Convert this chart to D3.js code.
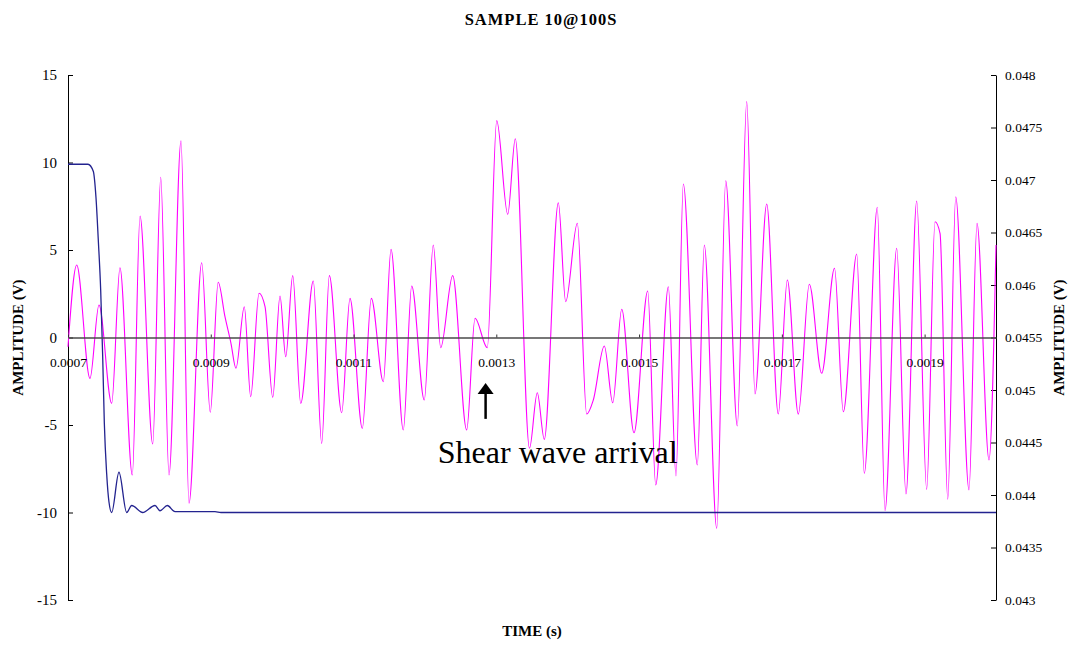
<!DOCTYPE html>
<html>
<head>
<meta charset="utf-8">
<script src="https://cdn.jsdelivr.net/npm/d3@7/dist/d3.min.js"></script>
<style>
  body { margin: 0; background: #fff; }
  svg { display: block; }
  text { font-family: "Liberation Serif", "Times New Roman", serif; fill: #000; }
</style>
</head>
<body>
<svg id="chart" width="1071" height="645"></svg>
<script>
// ---- chart text ----
const chartTitle = "SAMPLE 10@100S";
const xTitle = "TIME (s)";
const yTitle = "AMPLITUDE (V)";
const noteText = "Shear wave arrival";

// ---- axes ----
const xTicks = [0.0007, 0.0009, 0.0011, 0.0013, 0.0015, 0.0017, 0.0019];
const xTickLabels = ["0.0007", "0.0009", "0.0011", "0.0013", "0.0015", "0.0017", "0.0019"];
const leftTicks = [-15, -10, -5, 0, 5, 10, 15];
const leftTickLabels = ["-15", "-10", "-5", "0", "5", "10", "15"];
const rightTicks = [0.043, 0.0435, 0.044, 0.0445, 0.045, 0.0455, 0.046, 0.0465, 0.047, 0.0475, 0.048];
const rightTickLabels = ["0.043", "0.0435", "0.044", "0.0445", "0.045", "0.0455", "0.046", "0.0465", "0.047", "0.0475", "0.048"];

// ---- input pulse (left axis, V) ----
const inputTime = [0.0007000, 0.0007280, 0.0007354, 0.0007392, 0.0007424, 0.0007458, 0.0007486, 0.0007509,
  0.0007542, 0.0007574, 0.0007612, 0.0007714, 0.0007822, 0.0007892, 0.0008046, 0.0008219, 0.0008289,
  0.0008391, 0.0008499, 0.0009059, 0.0009143, 0.0020000];
const inputVolts = [9.9, 9.9, 9.5, 8.0, 5.6, 2.7, -1.1, -4.9, -7.8, -9.4, -10.0, -7.7, -10.0, -9.6, -10.0,
  -9.6, -9.9, -9.6, -9.95, -9.95, -10.0, -10.0];

// ---- receiver response (right axis, V) ----
const responseTime = [0.0007000, 0.0007122, 0.0007308, 0.0007434, 0.0007612, 0.0007728, 0.0007901, 0.0008009, 0.0008187, 0.0008299,
  0.0008415, 0.0008583, 0.0008695, 0.0008873, 0.0008993, 0.0009104, 0.0009199, 0.0009283, 0.0009353, 0.0009470,
  0.0009559, 0.0009676, 0.0009760, 0.0009868, 0.0009970, 0.0010050, 0.0010148, 0.0010260, 0.0010436, 0.0010554,
  0.0010661, 0.0010834, 0.0010950, 0.0011123, 0.0011249, 0.0011417, 0.0011525, 0.0011697, 0.0011815, 0.0011991,
  0.0012117, 0.0012221, 0.0012389, 0.0012585, 0.0012702, 0.0012874, 0.0013006, 0.0013160, 0.0013266, 0.0013465,
  0.0013574, 0.0013672, 0.0013869, 0.0013972, 0.0014135, 0.0014266, 0.0014359, 0.0014513, 0.0014631, 0.0014757,
  0.0014929, 0.0015121, 0.0015233, 0.0015410, 0.0015517, 0.0015620, 0.0015816, 0.0015914, 0.0016088, 0.0016214,
  0.0016376, 0.0016508, 0.0016624, 0.0016788, 0.0016950, 0.0017077, 0.0017231, 0.0017385, 0.0017558, 0.0017738,
  0.0017861, 0.0018049, 0.0018155, 0.0018337, 0.0018445, 0.0018609, 0.0018739, 0.0018889, 0.0019029, 0.0019146,
  0.0019216, 0.0019324, 0.0019436, 0.0019622, 0.0019734, 0.0019902, 0.0020000];
const responseVolts = [0.045412, 0.046190, 0.045111, 0.045810, 0.044873, 0.046165, 0.044190, 0.046657, 0.044486, 0.047026,
  0.044190, 0.047374, 0.043921, 0.046212, 0.044788, 0.046026, 0.045698, 0.045445, 0.045207, 0.045793,
  0.044936, 0.045921, 0.045793, 0.044930, 0.045895, 0.045317, 0.046089, 0.044873, 0.046038, 0.044492,
  0.046089, 0.044784, 0.045873, 0.044635, 0.045873, 0.045079, 0.046340, 0.044619, 0.045990, 0.044905,
  0.046381, 0.045403, 0.046089, 0.044619, 0.045683, 0.045403, 0.047565, 0.046673, 0.047393, 0.044445,
  0.044974, 0.044530, 0.046784, 0.045841, 0.046588, 0.044771, 0.044905, 0.045419, 0.044879, 0.045769,
  0.044593, 0.045943, 0.044095, 0.045984, 0.044181, 0.046962, 0.044286, 0.046381, 0.043683, 0.046993,
  0.044657, 0.047746, 0.044962, 0.046771, 0.044771, 0.046048, 0.044771, 0.046007, 0.045159, 0.046159,
  0.044793, 0.046295, 0.044207, 0.046740, 0.043850, 0.046350, 0.044010, 0.046800, 0.044054, 0.046603,
  0.046492, 0.043959, 0.046841, 0.044048, 0.046588, 0.044333, 0.046381];

// ---- annotation (data units: time, left-axis volts) ----
const arrowTime = 0.001285;
const arrowFrom = -4.65;
const arrowTo = -2.6;
const noteTime = 0.001218;
const noteLevel = -7.15;

// ---- layout ----
const plot = { left: 68, right: 996, top: 75, bottom: 600 };

const svg = d3.select("#chart");

const x = d3.scaleLinear().domain([0.0007, 0.002]).range([plot.left, plot.right]);
const yL = d3.scaleLinear().domain([-15, 15]).range([plot.bottom, plot.top]);
const yR = d3.scaleLinear().domain([0.043, 0.048]).range([plot.bottom, plot.top]);

// title
svg.append("text")
  .attr("x", 541).attr("y", 25)
  .attr("text-anchor", "middle")
  .attr("font-size", 16.5).attr("font-weight", "bold")
  .attr("letter-spacing", 1)
  .text(chartTitle);

// left axis
const gL = svg.append("g")
  .attr("transform", `translate(${plot.left},0)`)
  .call(d3.axisLeft(yL).tickValues(leftTicks).tickFormat((d, i) => leftTickLabels[i])
    .tickSizeInner(-5).tickSizeOuter(0).tickPadding(11));
gL.select(".domain").attr("stroke", "#000").attr("stroke-width", 1);
gL.selectAll(".tick line").attr("stroke", "#000");
gL.selectAll(".tick text").attr("font-size", 15).attr("font-family", "Liberation Serif");

// right axis
const gR = svg.append("g")
  .attr("transform", `translate(${plot.right},0)`)
  .call(d3.axisRight(yR).tickValues(rightTicks).tickFormat((d, i) => rightTickLabels[i])
    .tickSizeInner(-5).tickSizeOuter(0).tickPadding(9));
gR.select(".domain").attr("stroke", "#000").attr("stroke-width", 1);
gR.selectAll(".tick line").attr("stroke", "#000");
gR.selectAll(".tick text").attr("font-size", 13.5).attr("font-family", "Liberation Serif");

// response trace (right axis)
const responseLine = d3.line()
  .x((d, i) => x(responseTime[i]))
  .y(d => yR(d))
  .curve(d3.curveMonotoneX);
svg.append("path")
  .attr("d", responseLine(responseVolts))
  .attr("fill", "none")
  .attr("stroke", "#ff00ff")
  .attr("stroke-width", 1.1);

// input trace (left axis)
const inputLine = d3.line()
  .x((d, i) => x(inputTime[i]))
  .y(d => yL(d))
  .curve(d3.curveMonotoneX);
svg.append("path")
  .attr("d", inputLine(inputVolts))
  .attr("fill", "none")
  .attr("stroke", "#23238f")
  .attr("stroke-width", 1.3);

// time axis drawn through zero volts
const gX = svg.append("g")
  .attr("transform", `translate(0,${yL(0)})`)
  .call(d3.axisBottom(x).tickValues(xTicks).tickFormat((d, i) => xTickLabels[i])
    .tickSizeInner(-3).tickSizeOuter(0).tickPadding(20));
gX.select(".domain").attr("stroke", "#4a4a4a").attr("stroke-width", 1.7);
gX.selectAll(".tick line").attr("stroke", "#333");
gX.selectAll(".tick text").attr("font-size", 13.5).attr("font-family", "Liberation Serif");

// axis titles
svg.append("text")
  .attr("transform", `translate(23,${yL(0)}) rotate(-90)`)
  .attr("text-anchor", "middle")
  .attr("font-size", 15).attr("font-weight", "bold")
  .text(yTitle);
svg.append("text")
  .attr("transform", `translate(1064,${yL(0)}) rotate(-90)`)
  .attr("text-anchor", "middle")
  .attr("font-size", 15).attr("font-weight", "bold")
  .text(yTitle);
svg.append("text")
  .attr("x", 532).attr("y", 636)
  .attr("text-anchor", "middle")
  .attr("font-size", 15).attr("font-weight", "bold")
  .text(xTitle);

// shear wave arrival marker
const ax = x(arrowTime);
const yTip = yL(arrowTo), yBase = yL(arrowFrom);
svg.append("line")
  .attr("x1", ax).attr("x2", ax)
  .attr("y1", yBase).attr("y2", yTip + 8)
  .attr("stroke", "#000").attr("stroke-width", 2.5);
svg.append("path")
  .attr("d", `M${ax},${yTip} L${ax - 8},${yTip + 11} L${ax + 8},${yTip + 11} Z`)
  .attr("fill", "#000");
svg.append("text")
  .attr("x", x(noteTime)).attr("y", yL(noteLevel))
  .attr("font-size", 32)
  .text(noteText);
</script>
</body>
</html>
